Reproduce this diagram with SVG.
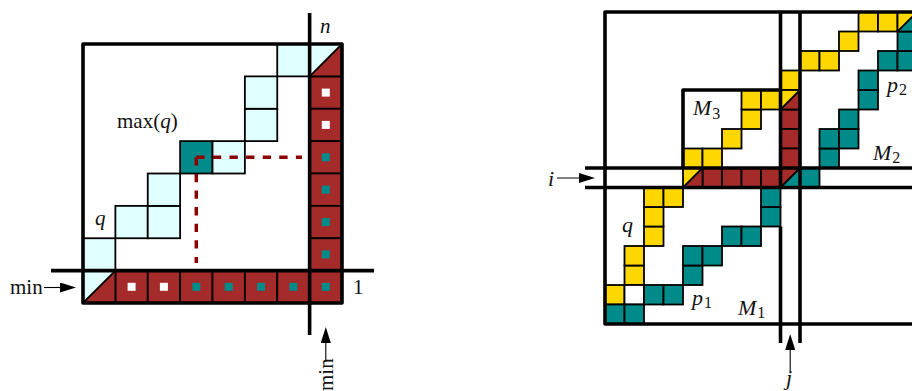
<svg xmlns="http://www.w3.org/2000/svg" width="912" height="391" viewBox="0 0 912 391">
  <defs>
    <style>
      .cell { stroke:#000; stroke-width:1.8; }
      .cy { fill:#e0ffff; }
      .tl { fill:#008b8b; }
      .rd { fill:#a52a2a; }
      .yl { fill:#ffd700; }
      .wh { fill:#ffffff; }
      .box { fill:none; stroke:#000; stroke-width:1.8; }
      .frame { fill:none; stroke:#000; stroke-width:3.6; stroke-linejoin:round; }
      .dash { fill:none; stroke:#8b0000; stroke-width:3.5; stroke-dasharray:8.3 8.3; }
      .arrow { fill:none; stroke:#000; stroke-width:1.1; marker-end:url(#ah); }
      text { font-family:"Liberation Serif","DejaVu Serif",serif; fill:#111; }
      .it { font-style:italic; }
      .lab { font-size:21px; }
      .mlab { font-size:22px; }
      .sub { font-size:16px; font-style:normal; }
    </style>
    <marker id="ah" markerUnits="userSpaceOnUse" markerWidth="16" markerHeight="10" refX="12" refY="5" orient="auto">
      <path d="M0,0 L16,5 L0,10 Z" fill="#000"/>
    </marker>
  </defs>

  <!-- Left panel: 8x8 grid, cell 32.375 -->
  <g id="left-panel">
    <g id="left-cells">
      <!-- staircase q -->
      <rect class="cell cy" x="83" y="238.25" width="32.375" height="32.375"/>
      <rect class="cell cy" x="115.375" y="205.875" width="32.375" height="32.375"/>
      <rect class="cell cy" x="147.75" y="205.875" width="32.375" height="32.375"/>
      <rect class="cell cy" x="147.75" y="173.5" width="32.375" height="32.375"/>
      <rect class="cell tl" x="180.125" y="141.125" width="32.375" height="32.375"/>
      <rect class="cell cy" x="212.5" y="141.125" width="32.375" height="32.375"/>
      <rect class="cell cy" x="244.875" y="108.75" width="32.375" height="32.375"/>
      <rect class="cell cy" x="244.875" y="76.375" width="32.375" height="32.375"/>
      <rect class="cell cy" x="277.25" y="44" width="32.375" height="32.375"/>
      <!-- bottom row -->
      <rect class="cell rd" x="115.375" y="270.625" width="32.375" height="32.375"/>
      <rect class="cell rd" x="147.75" y="270.625" width="32.375" height="32.375"/>
      <rect class="cell rd" x="180.125" y="270.625" width="32.375" height="32.375"/>
      <rect class="cell rd" x="212.5" y="270.625" width="32.375" height="32.375"/>
      <rect class="cell rd" x="244.875" y="270.625" width="32.375" height="32.375"/>
      <rect class="cell rd" x="277.25" y="270.625" width="32.375" height="32.375"/>
      <rect class="cell rd" x="309.625" y="270.625" width="32.375" height="32.375"/>
      <!-- right column -->
      <rect class="cell rd" x="309.625" y="76.375" width="32.375" height="32.375"/>
      <rect class="cell rd" x="309.625" y="108.75" width="32.375" height="32.375"/>
      <rect class="cell rd" x="309.625" y="141.125" width="32.375" height="32.375"/>
      <rect class="cell rd" x="309.625" y="173.5" width="32.375" height="32.375"/>
      <rect class="cell rd" x="309.625" y="205.875" width="32.375" height="32.375"/>
      <rect class="cell rd" x="309.625" y="238.25" width="32.375" height="32.375"/>
      <!-- split corner cells -->
      <polygon class="cy" points="83,270.625 115.375,270.625 83,303"/>
      <polygon class="rd" points="115.375,270.625 115.375,303 83,303"/>
      <rect class="box" x="83" y="270.625" width="32.375" height="32.375"/>
      <line class="box" x1="83" y1="303" x2="115.375" y2="270.625"/>
      <polygon class="cy" points="309.625,44 342,44 309.625,76.375"/>
      <polygon class="rd" points="342,44 342,76.375 309.625,76.375"/>
      <rect class="box" x="309.625" y="44" width="32.375" height="32.375"/>
      <line class="box" x1="309.625" y1="76.375" x2="342" y2="44"/>
    </g>
    <g id="left-dots">
      <rect class="wh" x="127.6" y="282.8" width="8" height="8"/>
      <rect class="wh" x="159.9" y="282.8" width="8" height="8"/>
      <rect class="tl" x="192.3" y="282.8" width="8" height="8"/>
      <rect class="tl" x="224.7" y="282.8" width="8" height="8"/>
      <rect class="tl" x="257.1" y="282.8" width="8" height="8"/>
      <rect class="tl" x="289.4" y="282.8" width="8" height="8"/>
      <rect class="tl" x="321.8" y="282.8" width="8" height="8"/>
      <rect class="wh" x="321.8" y="88.6" width="8" height="8"/>
      <rect class="wh" x="321.8" y="120.9" width="8" height="8"/>
      <rect class="tl" x="321.8" y="153.3" width="8" height="8"/>
      <rect class="tl" x="321.8" y="185.7" width="8" height="8"/>
      <rect class="tl" x="321.8" y="218.1" width="8" height="8"/>
      <rect class="tl" x="321.8" y="250.4" width="8" height="8"/>
    </g>
    <g id="left-dashes">
      <path class="dash" d="M196.3,157.3 V263"/>
      <path class="dash" d="M196.3,157.3 H302"/>
    </g>
    <g id="left-frame">
      <path class="frame" d="M83,44 H342 V303 H83 Z"/>
      <line class="frame" x1="309.625" y1="13" x2="309.625" y2="335"/>
      <line class="frame" x1="51" y1="270.625" x2="374" y2="270.625"/>
    </g>
  </g>

  <!-- Right panel: grid, cell 19.5 -->
  <g id="right-panel">
    <g id="path-q">
      <rect class="cell yl" x="605" y="285" width="19.5" height="19.5"/>
      <rect class="cell yl" x="624.5" y="265.5" width="19.5" height="19.5"/>
      <rect class="cell yl" x="624.5" y="246" width="19.5" height="19.5"/>
      <rect class="cell yl" x="644" y="226.5" width="19.5" height="19.5"/>
      <rect class="cell yl" x="644" y="207" width="19.5" height="19.5"/>
      <rect class="cell yl" x="644" y="187.5" width="19.5" height="19.5"/>
      <rect class="cell yl" x="663.5" y="187.5" width="19.5" height="19.5"/>
      <rect class="cell yl" x="683" y="148.5" width="19.5" height="19.5"/>
      <rect class="cell yl" x="702.5" y="148.5" width="19.5" height="19.5"/>
      <rect class="cell yl" x="722" y="129" width="19.5" height="19.5"/>
      <rect class="cell yl" x="741.5" y="109.5" width="19.5" height="19.5"/>
      <rect class="cell yl" x="741.5" y="90" width="19.5" height="19.5"/>
      <rect class="cell yl" x="761" y="90" width="19.5" height="19.5"/>
      <rect class="cell yl" x="780.5" y="70.5" width="19.5" height="19.5"/>
      <rect class="cell yl" x="800" y="51" width="19.5" height="19.5"/>
      <rect class="cell yl" x="819.5" y="51" width="19.5" height="19.5"/>
      <rect class="cell yl" x="839" y="31.5" width="19.5" height="19.5"/>
      <rect class="cell yl" x="858.5" y="12" width="19.5" height="19.5"/>
      <rect class="cell yl" x="878" y="12" width="19.5" height="19.5"/>
      <rect class="cell wh" x="624.5" y="285" width="19.5" height="19.5"/>
    </g>
    <g id="path-p1">
      <rect class="cell tl" x="605" y="304.5" width="19.5" height="19.5"/>
      <rect class="cell tl" x="624.5" y="304.5" width="19.5" height="19.5"/>
      <rect class="cell tl" x="644" y="285" width="19.5" height="19.5"/>
      <rect class="cell tl" x="663.5" y="285" width="19.5" height="19.5"/>
      <rect class="cell tl" x="683" y="265.5" width="19.5" height="19.5"/>
      <rect class="cell tl" x="683" y="246" width="19.5" height="19.5"/>
      <rect class="cell tl" x="702.5" y="246" width="19.5" height="19.5"/>
      <rect class="cell tl" x="722" y="226.5" width="19.5" height="19.5"/>
      <rect class="cell tl" x="741.5" y="226.5" width="19.5" height="19.5"/>
      <rect class="cell tl" x="761" y="207" width="19.5" height="19.5"/>
      <rect class="cell tl" x="761" y="187.5" width="19.5" height="19.5"/>
    </g>
    <g id="path-p2">
      <rect class="cell tl" x="800" y="168" width="19.5" height="19.5"/>
      <rect class="cell tl" x="819.5" y="148.5" width="19.5" height="19.5"/>
      <rect class="cell tl" x="819.5" y="129" width="19.5" height="19.5"/>
      <rect class="cell tl" x="839" y="129" width="19.5" height="19.5"/>
      <rect class="cell tl" x="839" y="109.5" width="19.5" height="19.5"/>
      <rect class="cell tl" x="858.5" y="90" width="19.5" height="19.5"/>
      <rect class="cell tl" x="858.5" y="70.5" width="19.5" height="19.5"/>
      <rect class="cell tl" x="878" y="51" width="19.5" height="19.5"/>
      <rect class="cell tl" x="897.5" y="51" width="19.5" height="19.5"/>
      <rect class="cell tl" x="897.5" y="31.5" width="19.5" height="19.5"/>
    </g>
    <g id="path-min">
      <rect class="cell rd" x="780.5" y="109.5" width="19.5" height="19.5"/>
      <rect class="cell rd" x="780.5" y="129" width="19.5" height="19.5"/>
      <rect class="cell rd" x="780.5" y="148.5" width="19.5" height="19.5"/>
      <rect class="cell rd" x="702.5" y="168" width="19.5" height="19.5"/>
      <rect class="cell rd" x="722" y="168" width="19.5" height="19.5"/>
      <rect class="cell rd" x="741.5" y="168" width="19.5" height="19.5"/>
      <rect class="cell rd" x="761" y="168" width="19.5" height="19.5"/>
    </g>
    <g id="split-cells">
      <polygon class="yl" points="683,168 702.5,168 683,187.5"/>
      <polygon class="rd" points="702.5,168 702.5,187.5 683,187.5"/>
      <rect class="box" x="683" y="168" width="19.5" height="19.5"/>
      <line class="box" x1="683" y1="187.5" x2="702.5" y2="168"/>

      <polygon class="yl" points="780.5,90 800,90 780.5,109.5"/>
      <polygon class="rd" points="800,90 800,109.5 780.5,109.5"/>
      <rect class="box" x="780.5" y="90" width="19.5" height="19.5"/>
      <line class="box" x1="780.5" y1="109.5" x2="800" y2="90"/>

      <polygon class="rd" points="780.5,168 800,168 780.5,187.5"/>
      <polygon class="tl" points="800,168 800,187.5 780.5,187.5"/>
      <rect class="box" x="780.5" y="168" width="19.5" height="19.5"/>
      <line class="box" x1="780.5" y1="187.5" x2="800" y2="168"/>

      <polygon class="yl" points="897.5,12 917,12 897.5,31.5"/>
      <polygon class="tl" points="917,12 917,31.5 897.5,31.5"/>
      <rect class="box" x="897.5" y="12" width="19.5" height="19.5"/>
      <line class="box" x1="897.5" y1="31.5" x2="917" y2="12"/>
    </g>
    <g id="right-frame">
      <path class="frame" d="M920,12 H605 V324 H920"/>
      <line class="frame" x1="585" y1="168" x2="920" y2="168"/>
      <line class="frame" x1="585" y1="187.5" x2="920" y2="187.5"/>
      <line class="frame" x1="780.5" y1="12" x2="780.5" y2="187.5"/>
      <line class="frame" x1="780.5" y1="226.5" x2="780.5" y2="343"/>
      <line class="frame" x1="800" y1="12" x2="800" y2="343"/>
      <path class="frame" d="M683,168 V90 H780.5"/>
    </g>
  </g>

  <g id="connectors">
    <path class="arrow" d="M44,287.5 H72"/>
    <path class="arrow" d="M325.8,362 V331"/>
    <path class="arrow" d="M557,178 H591"/>
    <path class="arrow" d="M790.2,371 V338"/>
  </g>

  <g id="labels">
    <text class="lab it" x="320" y="33">n</text>
    <text class="lab" x="117" y="128">max(<tspan class="it">q</tspan>)</text>
    <text class="lab it" x="95" y="225">q</text>
    <text class="lab" x="10" y="294">min</text>
    <text class="lab" x="353" y="294">1</text>
    <text class="lab" transform="translate(333,391) rotate(-90)" x="0" y="0">min</text>

    <text class="mlab it" x="693" y="115">M<tspan class="sub" dx="1" dy="4">3</tspan></text>
    <text class="mlab it" x="873" y="160">M<tspan class="sub" dx="1" dy="3">2</tspan></text>
    <text class="mlab it" x="738" y="315">M<tspan class="sub" dx="1" dy="3">1</tspan></text>
    <text class="mlab it" x="692" y="305">p<tspan class="sub" dx="1" dy="3">1</tspan></text>
    <text class="mlab it" x="887" y="92">p<tspan class="sub" dx="1" dy="3">2</tspan></text>
    <text class="mlab it" x="622" y="232">q</text>
    <text class="mlab it" x="548" y="186">i</text>
    <text class="mlab it" x="786" y="385">j</text>
  </g>
</svg>
